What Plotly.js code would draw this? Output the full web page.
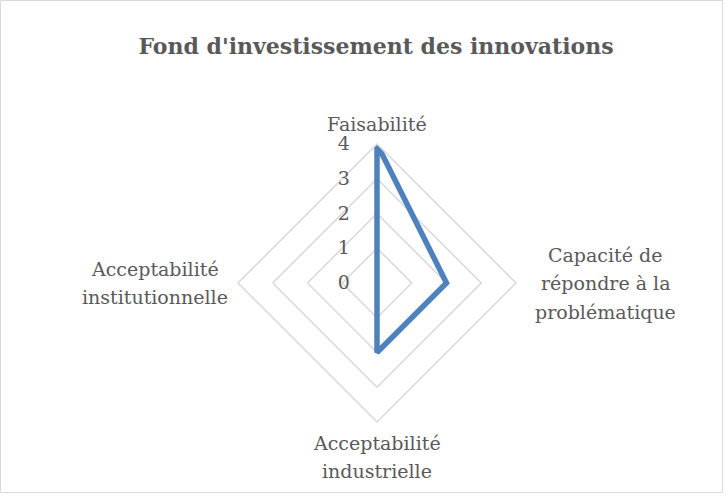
<!DOCTYPE html>
<html>
<head>
<meta charset="utf-8">
<script src="https://cdn.plot.ly/plotly-3.0.1.min.js"></script>
<style>
  body { margin: 0; background: #fff; }
  #chart { width: 728px; height: 498px; }
</style>
</head>
<body>
<div id="chart"></div>
<script>
// criteria of the radar, clockwise from the top
const criteres = [
  'Faisabilité',
  'Capacité de<br>répondre à la<br>problématique',
  'Acceptabilité<br>industrielle',
  'Acceptabilité<br>institutionnelle'
];
const scores = [4, 2, 2, 0];
const radialTicks = [0, 1, 2, 3, 4];

const W = 728, H = 498;
const cx = 377, cy = 283, R = 139;
const txt = '#595959';
const serif = 'DejaVu Serif, serif';
const lineGap = 28.5;

// close the polygon
const theta = criteres.concat([criteres[0]]);
const r = scores.concat([scores[0]]);

const trace = {
  type: 'scatterpolar',
  r: r,
  theta: theta,
  mode: 'lines',
  line: { color: '#4f81bd', width: 5.5 },
  hoverinfo: 'skip',
  showlegend: false
};

// category labels, centred like Excel does it; offset of each block centre from its outer vertex
const offsets = [
  { dx: 0, dy: -20 },
  { dx: 89, dy: 0 },
  { dx: 0, dy: 35 },
  { dx: -83, dy: 0 }
];
const annotations = [];
criteres.forEach((c, i) => {
  const a = Math.PI / 2 - i * Math.PI / 2;
  const bx = cx + R * Math.cos(a) + offsets[i].dx;
  const by = cy - R * Math.sin(a) + offsets[i].dy;
  const lines = c.split('<br>');
  lines.forEach((ln, k) => {
    const py = by + (k - (lines.length - 1) / 2) * lineGap;
    annotations.push({
      text: ln,
      xref: 'paper', yref: 'paper',
      x: bx / W, y: 1 - py / H,
      xanchor: 'center', yanchor: 'middle',
      showarrow: false,
      font: { family: serif, size: 19, color: txt }
    });
  });
});

const layout = {
  width: W,
  height: H,
  margin: { l: 0, r: 0, t: 0, b: 0 },
  paper_bgcolor: '#fff',
  font: { family: serif, color: txt, size: 19 },
  title: {
    text: "<b>Fond d'investissement des innovations</b>",
    font: { family: serif, size: 22, color: txt },
    x: 376 / W, xanchor: 'center',
    y: 1 - 46 / H, yanchor: 'middle'
  },
  polar: {
    domain: {
      x: [(cx - R) / W, (cx + R) / W],
      y: [1 - (cy + R) / H, 1 - (cy - R) / H]
    },
    gridshape: 'linear',
    bgcolor: 'rgba(0,0,0,0)',
    radialaxis: {
      range: [0, 4],
      tickvals: radialTicks,
      ticktext: radialTicks.map(String),
      angle: 90,
      tickangle: 90,
      side: 'counterclockwise',
      showline: false,
      ticks: 'outside',
      ticklen: 20,
      tickcolor: 'rgba(0,0,0,0)',
      gridcolor: '#d9d9d9',
      gridwidth: 1.5,
      tickfont: { family: serif, size: 19, color: txt }
    },
    angularaxis: {
      direction: 'clockwise',
      rotation: 90,
      showgrid: false,
      showline: true,
      linecolor: '#d9d9d9',
      linewidth: 1.5,
      ticks: '',
      showticklabels: false
    }
  },
  annotations: annotations,
  shapes: [{
    type: 'rect', xref: 'paper', yref: 'paper',
    x0: 0.5 / W, x1: 1 - 5.5 / W, y0: 5.5 / H, y1: 1 - 0.5 / H,
    line: { color: '#d9d9d9', width: 1 }
  }]
};

Plotly.newPlot('chart', [trace], layout, { displayModeBar: false, staticPlot: true });
</script>
</body>
</html>
